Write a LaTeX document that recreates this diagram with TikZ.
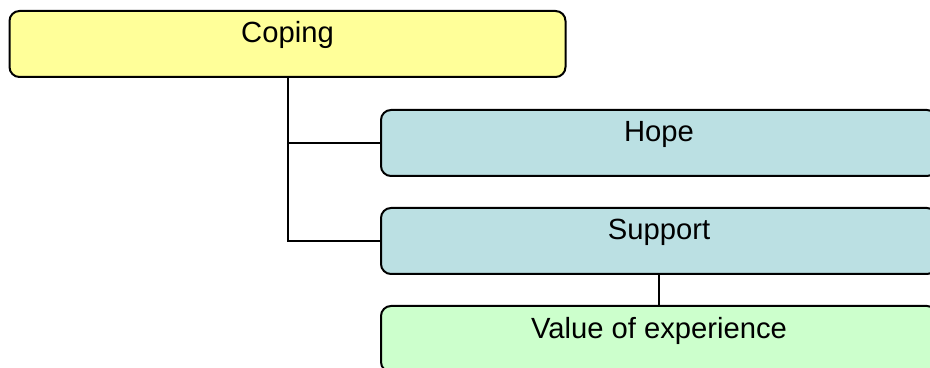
\documentclass[tikz,border=0pt]{standalone}
\usepackage{fontspec}
\setmainfont{Liberation Sans}
\definecolor{copingfill}{HTML}{FFFF99}
\definecolor{themefill}{HTML}{BBE0E3}
\definecolor{subfill}{HTML}{CCFFCC}
\tikzset{
  themebox/.style={draw=black, line width=1pt, rounded corners=5pt, anchor=north,
    minimum width=278pt, inner ysep=0pt, text height=16pt, text depth=17pt,
    font=\fontsize{14.6}{18}\selectfont},
  link/.style={draw=black, line width=1pt}
}
\begin{document}
\begin{tikzpicture}[x=0.5pt,y=-0.5pt]
  \clip (0,0) rectangle (930,368);
  \node[themebox, fill=copingfill] (coping) at (287.5,10) {Coping};
  \node[themebox, fill=themefill] (hope) at (659,109) {Hope};
  \node[themebox, fill=themefill] (support) at (659,207) {Support};
  \node[themebox, fill=subfill] (value) at (659,305) {Value of experience};
  % connectors
  \draw[link] (coping.south) |- (hope.west);
  \draw[link] (coping.south) |- (support.west);
  \draw[link] (support.south) -- (value.north);
\end{tikzpicture}
\end{document}
